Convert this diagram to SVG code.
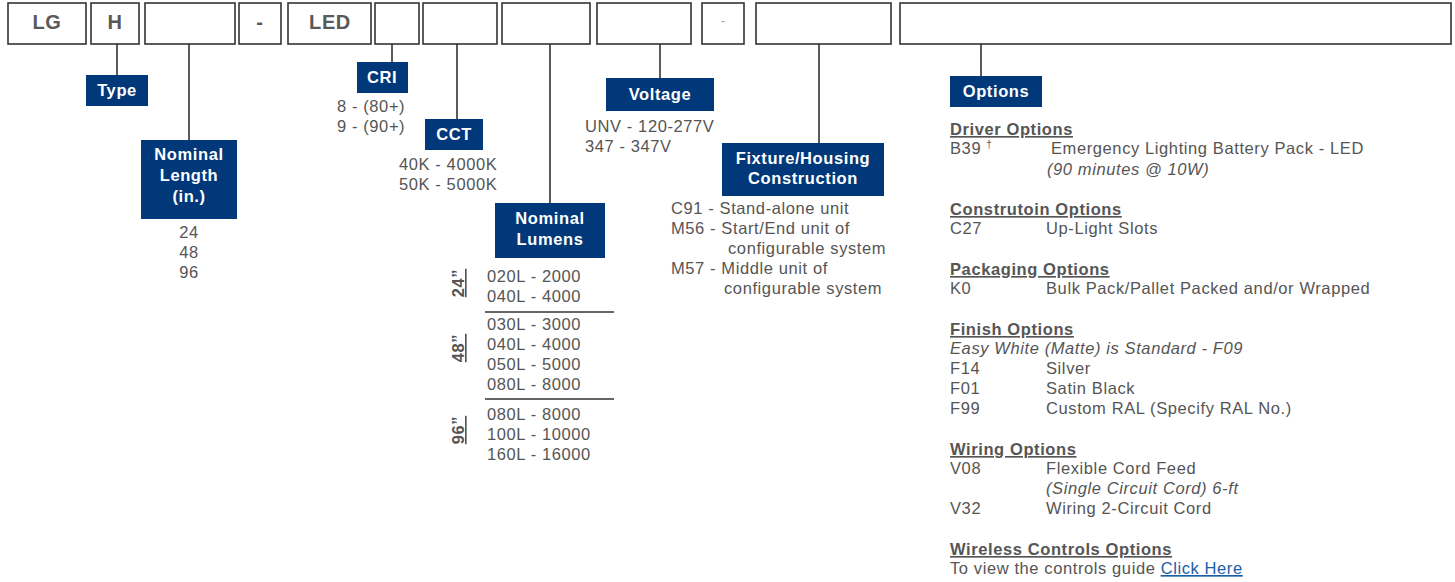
<svg xmlns="http://www.w3.org/2000/svg" width="1455" height="582" viewBox="0 0 1455 582">
<style>
.code{fill:#fff;stroke:#333;stroke-width:1.6}
.ct{font-family:"Liberation Sans",Arial,sans-serif;font-weight:bold;font-size:20px;fill:#595959;text-anchor:middle;letter-spacing:0.6px}
.lab{fill:#00387a}
.lt{font-family:"Liberation Sans",Arial,sans-serif;font-weight:bold;font-size:16.5px;fill:#fff;text-anchor:middle;letter-spacing:0.6px}
.t{font-family:"Liberation Sans",Arial,sans-serif;font-size:16.5px;fill:#555;letter-spacing:0.6px}
.c{text-anchor:middle}
.h{font-weight:bold;text-decoration:underline}
.i{font-style:italic}
.conn line{stroke:#333;stroke-width:1.6}
.sep{stroke:#333;stroke-width:1.6}
</style>
<rect width="1455" height="582" fill="#fff"/>
<g id="code-row">
<g id="box-lg"><rect class="code" x="8" y="3" width="78" height="41"/><text class="ct" x="47" y="29">LG</text></g>
<g id="box-h"><rect class="code" x="91" y="3" width="48" height="41"/><text class="ct" x="115" y="29">H</text></g>
<g id="box-length"><rect class="code" x="145" y="3" width="90" height="41"/></g>
<g id="box-dash1"><rect class="code" x="239" y="3" width="42" height="41"/><text class="ct" x="260" y="29">-</text></g>
<g id="box-led"><rect class="code" x="288" y="3" width="83" height="41"/><text class="ct" x="330" y="29">LED</text></g>
<g id="box-cri"><rect class="code" x="375" y="3" width="44" height="41"/></g>
<g id="box-cct"><rect class="code" x="423" y="3" width="74" height="41"/></g>
<g id="box-lumens"><rect class="code" x="502" y="3" width="88" height="41"/></g>
<g id="box-voltage"><rect class="code" x="597" y="3" width="94" height="41"/></g>
<g id="box-dash2"><rect class="code" x="702" y="3" width="42" height="41"/><text x="723" y="25" font-family="Liberation Sans, Arial, sans-serif" font-size="12" fill="#999" text-anchor="middle">-</text></g>
<g id="box-fixture"><rect class="code" x="756" y="3" width="135" height="41"/></g>
<g id="box-options"><rect class="code" x="900" y="3" width="551" height="41"/></g>
</g>
<g id="connectors" class="conn">
<line x1="117" y1="44" x2="117" y2="75"/>
<line x1="189" y1="44" x2="189" y2="140"/>
<line x1="392" y1="44" x2="392" y2="62"/>
<line x1="457" y1="44" x2="457" y2="119"/>
<line x1="550" y1="44" x2="550" y2="203"/>
<line x1="660" y1="44" x2="660" y2="78"/>
<line x1="819" y1="44" x2="819" y2="143"/>
<line x1="981" y1="44" x2="981" y2="76"/>
</g>
<g id="type">
<rect class="lab" x="86" y="75" width="62" height="31"/>
<text class="lt" x="117" y="96">Type</text>
</g>
<g id="nominal-length">
<rect class="lab" x="141" y="140" width="96" height="79"/>
<text class="lt" x="189" y="160">Nominal</text>
<text class="lt" x="189" y="181">Length</text>
<text class="lt" x="189" y="202">(in.)</text>
<text class="t c" x="189" y="238">24</text>
<text class="t c" x="189" y="258">48</text>
<text class="t c" x="189" y="278">96</text>
</g>
<g id="cri">
<rect class="lab" x="357" y="62" width="51" height="31"/>
<text class="lt" x="382" y="83">CRI</text>
<text class="t" x="337" y="112">8 - (80+)</text>
<text class="t" x="337" y="132">9 - (90+)</text>
</g>
<g id="cct">
<rect class="lab" x="425" y="119" width="58" height="31"/>
<text class="lt" x="454" y="140">CCT</text>
<text class="t" x="399" y="170">40K - 4000K</text>
<text class="t" x="399" y="190">50K - 5000K</text>
</g>
<g id="nominal-lumens">
<rect class="lab" x="495" y="203" width="110" height="55"/>
<text class="lt" x="550" y="224">Nominal</text>
<text class="lt" x="550" y="245">Lumens</text>
<text class="t h c" transform="rotate(-90 464 283)" x="464" y="283">24”</text>
<text class="t h c" transform="rotate(-90 464 348)" x="464" y="348">48”</text>
<text class="t h c" transform="rotate(-90 464 430)" x="464" y="430">96”</text>
<text class="t" x="487" y="282">020L - 2000</text>
<text class="t" x="487" y="302">040L - 4000</text>
<line class="sep" x1="485" y1="312" x2="614" y2="312"/>
<text class="t" x="487" y="330">030L - 3000</text>
<text class="t" x="487" y="350">040L - 4000</text>
<text class="t" x="487" y="370">050L - 5000</text>
<text class="t" x="487" y="390">080L - 8000</text>
<line class="sep" x1="485" y1="399" x2="614" y2="399"/>
<text class="t" x="487" y="420">080L - 8000</text>
<text class="t" x="487" y="440">100L - 10000</text>
<text class="t" x="487" y="460">160L - 16000</text>
</g>
<g id="voltage">
<rect class="lab" x="606" y="78" width="108" height="33"/>
<text class="lt" x="660" y="100">Voltage</text>
<text class="t" x="585" y="132">UNV - 120-277V</text>
<text class="t" x="585" y="152">347 - 347V</text>
</g>
<g id="fixture">
<rect class="lab" x="722" y="143" width="162" height="53"/>
<text class="lt" x="803" y="164">Fixture/Housing</text>
<text class="lt" x="803" y="184">Construction</text>
<text class="t" x="671" y="214">C91 - Stand-alone unit</text>
<text class="t" x="671" y="234">M56 - Start/End unit of</text>
<text class="t" x="728" y="254">configurable system</text>
<text class="t" x="671" y="274">M57 - Middle unit of</text>
<text class="t" x="724" y="294">configurable system</text>
</g>
<g id="options">
<rect class="lab" x="950" y="76" width="92" height="31"/>
<text class="lt" x="996" y="97">Options</text>
<text class="t h" x="950" y="135">Driver Options</text>
<text class="t" x="950" y="154">B39 <tspan font-size="10" dy="-6">†</tspan></text>
<text class="t" x="1051" y="154">Emergency Lighting Battery Pack - LED</text>
<text class="t i" x="1047" y="175">(90 minutes @ 10W)</text>
<text class="t h" x="950" y="215">Construtoin Options</text>
<text class="t" x="950" y="234">C27</text>
<text class="t" x="1046" y="234">Up-Light Slots</text>
<text class="t h" x="950" y="275">Packaging Options</text>
<text class="t" x="950" y="294">K0</text>
<text class="t" x="1046" y="294">Bulk Pack/Pallet Packed and/or Wrapped</text>
<text class="t h" x="950" y="335">Finish Options</text>
<text class="t i" x="950" y="354">Easy White (Matte) is Standard - F09</text>
<text class="t" x="950" y="374">F14</text>
<text class="t" x="1046" y="374">Silver</text>
<text class="t" x="950" y="394">F01</text>
<text class="t" x="1046" y="394">Satin Black</text>
<text class="t" x="950" y="414">F99</text>
<text class="t" x="1046" y="414">Custom RAL (Specify RAL No.)</text>
<text class="t h" x="950" y="455">Wiring Options</text>
<text class="t" x="950" y="474">V08</text>
<text class="t" x="1046" y="474">Flexible Cord Feed</text>
<text class="t i" x="1046" y="494">(Single Circuit Cord) 6-ft</text>
<text class="t" x="950" y="514">V32</text>
<text class="t" x="1046" y="514">Wiring 2-Circuit Cord</text>
<text class="t h" x="950" y="555">Wireless Controls Options</text>
<text class="t" x="950" y="574">To view the controls guide <tspan fill="#1a5ea8" text-decoration="underline">Click Here</tspan></text>
</g>
</svg>
